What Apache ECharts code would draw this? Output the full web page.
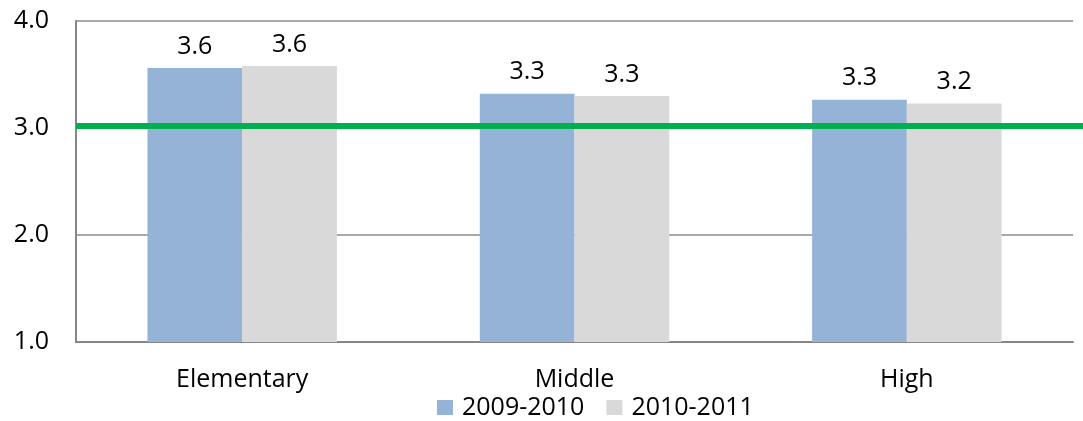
<!DOCTYPE html>
<html>
<head>
<meta charset="utf-8">
<script src="https://cdn.jsdelivr.net/npm/echarts@6/dist/echarts.min.js"></script>
<style>
html,body{margin:0;padding:0;background:#fff;}
#chart{width:1083px;height:421px;}
</style>
</head>
<body>
<div id="chart"></div>
<script>
const categories = ['Elementary', 'Middle', 'High'];
const seriesNames = ['2009-2010', '2010-2011'];
const values2009 = [3.56, 3.32, 3.265];
const values2010 = [3.58, 3.30, 3.23];
const targetValue = 3.02;
const yTicks = { min: 1, max: 4, interval: 1 };

const FONT = 'Open Sans';
const chart = echarts.init(document.getElementById('chart'));
const labelCfg = {
  show: true, position: 'top', distance: 9,
  color: '#000', fontFamily: FONT, fontSize: 25,
  formatter: p => p.value.toFixed(1)
};
chart.setOption({
  animation: false,
  textStyle: { fontFamily: FONT },
  grid: [
    { left: 76, right: 10, top: 21, bottom: 79, containLabel: false },
    { left: 76, right: 0, top: 21, bottom: 79, containLabel: false }
  ],
  legend: {
    data: seriesNames,
    bottom: -4, left: 432,
    itemWidth: 16, itemHeight: 15, itemGap: 22,
    icon: 'rect',
    textStyle: { fontFamily: FONT, fontSize: 25, color: '#000', padding: [0, 0, 0, 4] }
  },
  xAxis: [
    {
      type: 'category', data: categories, gridIndex: 0,
      axisLine: { lineStyle: { color: '#868686', width: 2 } },
      axisTick: { show: false },
      axisLabel: { color: '#000', fontFamily: FONT, fontSize: 25, margin: 25 }
    },
    { type: 'value', gridIndex: 1, show: false, min: 0, max: 1 }
  ],
  yAxis: [
    {
      type: 'value', gridIndex: 0, min: yTicks.min, max: yTicks.max, interval: yTicks.interval,
      axisLine: { show: true, lineStyle: { color: '#868686', width: 2 } },
      axisTick: { show: false },
      splitLine: { lineStyle: { color: '#8c8c8c', width: 1.5 } },
      axisLabel: { color: '#000', fontFamily: FONT, fontSize: 25, margin: 27,
        formatter: v => v.toFixed(1) }
    },
    { type: 'value', gridIndex: 1, show: false, min: yTicks.min, max: yTicks.max }
  ],
  series: [
    {
      name: seriesNames[0], type: 'bar', data: values2009,
      xAxisIndex: 0, yAxisIndex: 0,
      barGap: '0%', barCategoryGap: '43%',
      itemStyle: { color: '#95B3D7' }, label: labelCfg
    },
    {
      name: seriesNames[1], type: 'bar', data: values2010,
      xAxisIndex: 0, yAxisIndex: 0,
      barGap: '0%', barCategoryGap: '43%',
      itemStyle: { color: '#D9D9D9' }, label: labelCfg
    },
    {
      name: 'target', type: 'line', data: [], z: 20, zlevel: 1,
      xAxisIndex: 1, yAxisIndex: 1, silent: true,
      markLine: {
        silent: true, symbol: 'none', label: { show: false }, z: 20,
        lineStyle: { color: '#00B050', width: 6, type: 'solid', opacity: 1 },
        data: [{ yAxis: targetValue }]
      }
    }
  ]
});
</script>
</body>
</html>
